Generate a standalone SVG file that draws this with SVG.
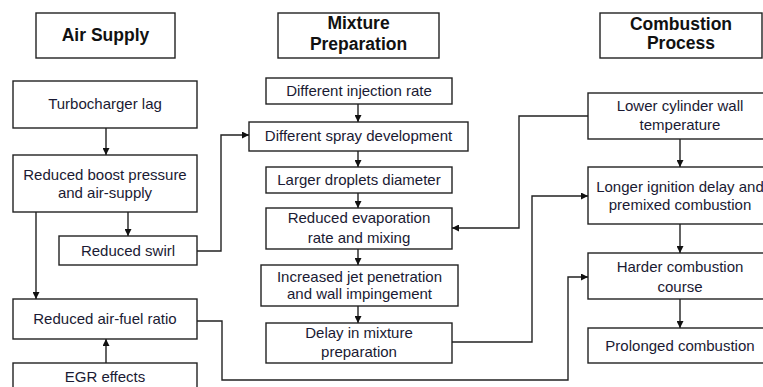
<svg xmlns="http://www.w3.org/2000/svg" width="763" height="387" viewBox="0 0 763 387">
<defs>
<style>
rect{fill:#fff;stroke:#222;stroke-width:1.4}
.t{font-family:"Liberation Sans",Arial,sans-serif;font-size:15px;fill:#1a1a33;text-anchor:middle}
.h{font-family:"Liberation Sans",Arial,sans-serif;font-size:17.5px;font-weight:bold;fill:#111;text-anchor:middle}
.c path{fill:none;stroke:#222;stroke-width:1.4;marker-end:url(#ah)}
</style>
<marker id="ah" viewBox="0 0 10 10" refX="10" refY="5" markerWidth="7" markerHeight="7" markerUnits="userSpaceOnUse" orient="auto">
<path d="M0,0 L10,5 L0,10 Z" fill="#111"/>
</marker>
</defs>
<rect x="0" y="0" width="763" height="387" style="fill:#fff;stroke:none"/>
<g id="air-supply-title"><rect x="36" y="13" width="139" height="45"/><text class="h" x="105.5" y="41">Air Supply</text></g>
<g id="mixture-title"><rect x="278" y="13" width="161" height="45"/><text class="h" x="358.5" y="29">Mixture</text><text class="h" x="358.5" y="50">Preparation</text></g>
<g id="combustion-title"><rect x="600" y="13" width="162" height="45"/><text class="h" x="681" y="30">Combustion</text><text class="h" x="681" y="49">Process</text></g>

<g id="turbo"><rect x="13" y="81" width="184" height="47"/><text class="t" x="105" y="109">Turbocharger lag</text></g>
<g id="boost"><rect x="13" y="155" width="184" height="57"/><text class="t" x="105" y="180">Reduced boost pressure</text><text class="t" x="105" y="198">and air-supply</text></g>
<g id="swirl"><rect x="59" y="236" width="138" height="29"/><text class="t" x="128" y="256">Reduced swirl</text></g>
<g id="afr"><rect x="13" y="299" width="184" height="40"/><text class="t" x="105" y="324">Reduced air-fuel ratio</text></g>
<g id="egr"><rect x="13" y="363" width="184" height="40"/><text class="t" x="105" y="382">EGR effects</text></g>

<g id="injection"><rect x="266" y="78" width="186" height="26"/><text class="t" x="359" y="96">Different injection rate</text></g>
<g id="spray"><rect x="249" y="122" width="219" height="29"/><text class="t" x="358.5" y="141">Different spray development</text></g>
<g id="droplets"><rect x="266" y="167" width="186" height="26"/><text class="t" x="359" y="185">Larger droplets diameter</text></g>
<g id="evaporation"><rect x="266" y="208" width="186" height="41"/><text class="t" x="359" y="223">Reduced evaporation</text><text class="t" x="359" y="243">rate and mixing</text></g>
<g id="jet"><rect x="261" y="265" width="197" height="41"/><text class="t" x="359.5" y="282">Increased jet penetration</text><text class="t" x="359.5" y="299">and wall impingement</text></g>
<g id="delay"><rect x="266" y="323" width="186" height="40"/><text class="t" x="359" y="338">Delay in mixture</text><text class="t" x="359" y="357">preparation</text></g>

<g id="wall"><rect x="588" y="93" width="184" height="46"/><text class="t" x="680" y="111">Lower cylinder wall</text><text class="t" x="680" y="130">temperature</text></g>
<g id="ignition"><rect x="588" y="167" width="184" height="57"/><text class="t" x="680" y="192">Longer ignition delay and</text><text class="t" x="680" y="210">premixed combustion</text></g>
<g id="harder"><rect x="588" y="253" width="184" height="46"/><text class="t" x="680" y="272">Harder combustion</text><text class="t" x="680" y="292">course</text></g>
<g id="prolonged"><rect x="588" y="328" width="184" height="35"/><text class="t" x="680" y="351">Prolonged combustion</text></g>

<g id="connectors" class="c">
<path d="M106,128 V155"/>
<path d="M36,212 V299"/>
<path d="M128,212 V236"/>
<path d="M197,251 H221 V135 H249"/>
<path d="M106,363 V339"/>
<path d="M197,321 H222 V380 H568 V277 H588"/>
<path d="M358,104 V122"/>
<path d="M358,151 V167"/>
<path d="M358,193 V208"/>
<path d="M358,249 V265"/>
<path d="M358,306 V323"/>
<path d="M452,342 H532 V196 H588"/>
<path d="M588,116 H519 V228 H452"/>
<path d="M680,139 V167"/>
<path d="M680,224 V253"/>
<path d="M680,299 V328"/>
</g>
</svg>
